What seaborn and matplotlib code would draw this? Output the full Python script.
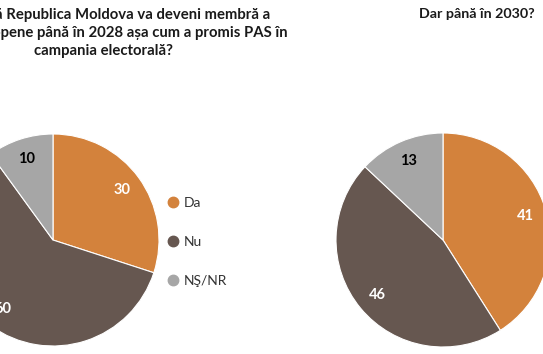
import matplotlib
matplotlib.use("Agg")
import matplotlib.pyplot as plt
from matplotlib.lines import Line2D
import seaborn as sns

# survey answers, percent
categories = ["Da", "Nu", "NŞ/NR"]
values_2028 = [30, 60, 10]
values_2030 = [41, 46, 13]
title_2028 = ("Credeți că Republica Moldova va deveni membră a\n"
              "Uniunii Europene până în 2028 așa cum a promis PAS în\n"
              "campania electorală?")
title_2030 = "Dar până în 2030?"

sns.set_theme(style="white")
plt.rcParams['font.family'] = ['Lato', 'DejaVu Sans']

palette = sns.color_palette(["#D3823C", "#665750", "#A6A6A6"])
label_colors = ["white", "white", "black"]

W, H = 543, 354
fig = plt.figure(figsize=(W / 100, H / 100), dpi=100)
ax = fig.add_axes([0, 0, 1, 1])


def draw_pie(values, cx, cy, r):
    wedges, _, autotexts = ax.pie(
        values, colors=palette, startangle=90, counterclock=False,
        center=(cx, cy), radius=r, autopct=lambda p: f"{p:.0f}",
        pctdistance=0.8, wedgeprops=dict(edgecolor="white", linewidth=0.8))
    for t, c in zip(autotexts, label_colors):
        t.set_color(c)
        t.set_fontsize(10.5)
        t.set_fontweight("bold")
    return wedges


draw_pie(values_2028, 53, H - 240, 106)
draw_pie(values_2030, 443, H - 240, 107)

ax.set_xlim(0, W)
ax.set_ylim(0, H)
ax.set_aspect("equal")
ax.axis("off")

ax.text(103, H - 33, title_2028, ha="center", va="center", fontsize=10.7,
        fontweight="bold", linespacing=1.33, color="#1a1a1a")
ax.text(477, H - 14, title_2030, ha="center", va="center", fontsize=10.3,
        fontweight="bold", color="#1a1a1a")

handles = [Line2D([], [], marker="o", linestyle="", markersize=7.5,
                  markerfacecolor=c, markeredgecolor=c) for c in palette]
ax.legend(handles, categories, loc="center left", frameon=False,
          bbox_to_anchor=(152, H - 242), bbox_transform=ax.transData,
          fontsize=10, handlelength=1.2, handletextpad=0.2,
          labelspacing=1.95, labelcolor="#333333")

fig.savefig("out.png", dpi=100)
